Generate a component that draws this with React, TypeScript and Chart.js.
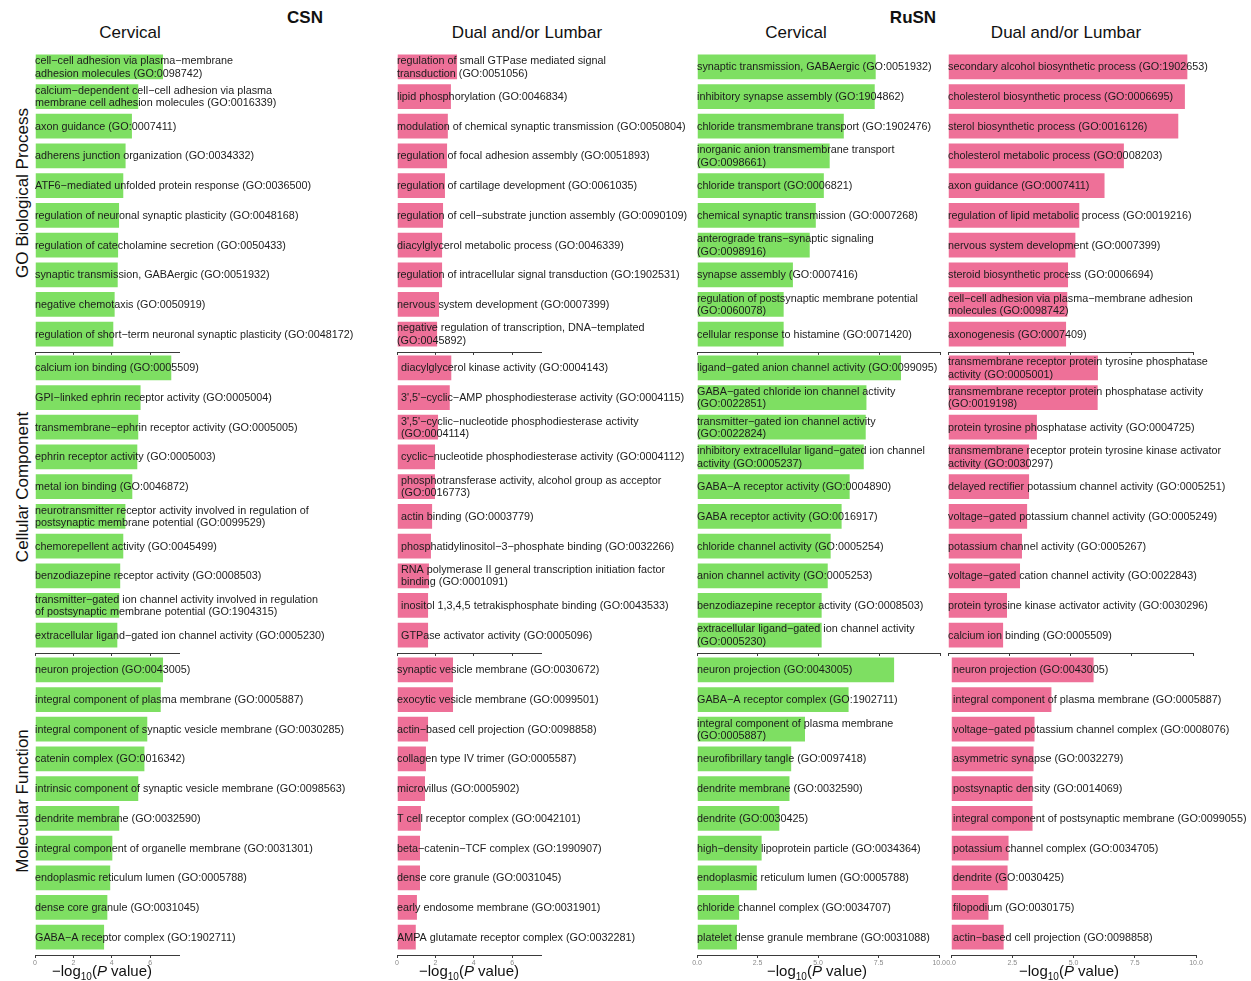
import React, { useEffect, useRef } from "react";
import { Chart, registerables } from "chart.js";

Chart.register(...registerables);

// ---------------- DATA ----------------
const CSN_CERV_BP_TERMS: (string | string[])[] = [
  ["cell−cell adhesion via plasma−membrane", "adhesion molecules (GO:0098742)"],
  ["calcium−dependent cell−cell adhesion via plasma", "membrane cell adhesion molecules (GO:0016339)"],
  "axon guidance (GO:0007411)",
  "adherens junction organization (GO:0034332)",
  "ATF6−mediated unfolded protein response (GO:0036500)",
  "regulation of neuronal synaptic plasticity (GO:0048168)",
  "regulation of catecholamine secretion (GO:0050433)",
  "synaptic transmission, GABAergic (GO:0051932)",
  "negative chemotaxis (GO:0050919)",
  "regulation of short−term neuronal synaptic plasticity (GO:0048172)",
];
const CSN_CERV_BP_LOGP = [6.72, 5.43, 5.1, 4.77, 4.65, 4.43, 4.38, 4.36, 4.2, 4.13];

const CSN_CERV_CC_TERMS: (string | string[])[] = [
  "calcium ion binding (GO:0005509)",
  "GPI−linked ephrin receptor activity (GO:0005004)",
  "transmembrane−ephrin receptor activity (GO:0005005)",
  "ephrin receptor activity (GO:0005003)",
  "metal ion binding (GO:0046872)",
  ["neurotransmitter receptor activity involved in regulation of", "postsynaptic membrane potential (GO:0099529)"],
  "chemorepellent activity (GO:0045499)",
  "benzodiazepine receptor activity (GO:0008503)",
  ["transmitter−gated ion channel activity involved in regulation", "of postsynaptic membrane potential (GO:1904315)"],
  "extracellular ligand−gated ion channel activity (GO:0005230)",
];
const CSN_CERV_CC_LOGP = [7.15, 5.55, 5.43, 5.38, 5.12, 4.76, 4.65, 4.49, 4.44, 4.34];

const CSN_CERV_MF_TERMS: (string | string[])[] = [
  "neuron projection (GO:0043005)",
  "integral component of plasma membrane (GO:0005887)",
  "integral component of synaptic vesicle membrane (GO:0030285)",
  "catenin complex (GO:0016342)",
  "intrinsic component of synaptic vesicle membrane (GO:0098563)",
  "dendrite membrane (GO:0032590)",
  "integral component of organelle membrane (GO:0031301)",
  "endoplasmic reticulum lumen (GO:0005788)",
  "dense core granule (GO:0031045)",
  "GABA−A receptor complex (GO:1902711)",
];
const CSN_CERV_MF_LOGP = [6.72, 6.6, 5.9, 5.75, 5.43, 4.44, 4.08, 3.97, 3.82, 3.65];

const CSN_LUMB_BP_TERMS: (string | string[])[] = [
  ["regulation of small GTPase mediated signal", "transduction (GO:0051056)"],
  "lipid phosphorylation (GO:0046834)",
  "modulation of chemical synaptic transmission (GO:0050804)",
  "regulation of focal adhesion assembly (GO:0051893)",
  "regulation of cartilage development (GO:0061035)",
  "regulation of cell−substrate junction assembly (GO:0090109)",
  "diacylglycerol metabolic process (GO:0046339)",
  "regulation of intracellular signal transduction (GO:1902531)",
  "nervous system development (GO:0007399)",
  ["negative regulation of transcription, DNA−templated", "(GO:0045892)"],
];
const CSN_LUMB_BP_LOGP = [3.18, 2.86, 2.7, 2.66, 2.55, 2.45, 2.4, 2.4, 2.24, 2.14];

const CSN_LUMB_CC_TERMS: (string | string[])[] = [
  "diacylglycerol kinase activity (GO:0004143)",
  "3',5'−cyclic−AMP phosphodiesterase activity (GO:0004115)",
  ["3',5'−cyclic−nucleotide phosphodiesterase activity", "(GO:0004114)"],
  "cyclic−nucleotide phosphodiesterase activity (GO:0004112)",
  ["phosphotransferase activity, alcohol group as acceptor", "(GO:0016773)"],
  "actin binding (GO:0003779)",
  "phosphatidylinositol−3−phosphate binding (GO:0032266)",
  ["RNA polymerase II general transcription initiation factor", "binding (GO:0001091)"],
  "inositol 1,3,4,5 tetrakisphosphate binding (GO:0043533)",
  "GTPase activator activity (GO:0005096)",
];
const CSN_LUMB_CC_LOGP = [2.88, 2.8, 2.19, 2.03, 2.03, 1.88, 1.82, 1.72, 1.67, 1.67];

const CSN_LUMB_MF_TERMS: (string | string[])[] = [
  "synaptic vesicle membrane (GO:0030672)",
  "exocytic vesicle membrane (GO:0099501)",
  "actin−based cell projection (GO:0098858)",
  "collagen type IV trimer (GO:0005587)",
  "microvillus (GO:0005902)",
  "T cell receptor complex (GO:0042101)",
  "beta−catenin−TCF complex (GO:1990907)",
  "dense core granule (GO:0031045)",
  "early endosome membrane (GO:0031901)",
  "AMPA glutamate receptor complex (GO:0032281)",
];
const CSN_LUMB_MF_LOGP = [2.97, 2.97, 1.67, 1.56, 1.51, 1.3, 1.25, 1.25, 1.09, 1.03];

const RUSN_CERV_BP_TERMS: (string | string[])[] = [
  "synaptic transmission, GABAergic (GO:0051932)",
  "inhibitory synapse assembly (GO:1904862)",
  "chloride transmembrane transport (GO:1902476)",
  ["inorganic anion transmembrane transport", "(GO:0098661)"],
  "chloride transport (GO:0006821)",
  "chemical synaptic transmission (GO:0007268)",
  ["anterograde trans−synaptic signaling", "(GO:0098916)"],
  "synapse assembly (GO:0007416)",
  ["regulation of postsynaptic membrane potential", "(GO:0060078)"],
  "cellular response to histamine (GO:0071420)",
];
const RUSN_CERV_BP_LOGP = [7.38, 7.34, 6.07, 5.49, 5.25, 4.92, 4.67, 3.98, 3.6, 3.6];

const RUSN_CERV_CC_TERMS: (string | string[])[] = [
  "ligand−gated anion channel activity (GO:0099095)",
  ["GABA−gated chloride ion channel activity", "(GO:0022851)"],
  ["transmitter−gated ion channel activity", "(GO:0022824)"],
  ["inhibitory extracellular ligand−gated ion channel", "activity (GO:0005237)"],
  "GABA−A receptor activity (GO:0004890)",
  "GABA receptor activity (GO:0016917)",
  "chloride channel activity (GO:0005254)",
  "anion channel activity (GO:0005253)",
  "benzodiazepine receptor activity (GO:0008503)",
  ["extracellular ligand−gated ion channel activity", "(GO:0005230)"],
];
const RUSN_CERV_CC_LOGP = [8.42, 7.0, 6.97, 6.89, 6.31, 5.98, 5.53, 5.41, 5.16, 5.16];

const RUSN_CERV_MF_TERMS: (string | string[])[] = [
  "neuron projection (GO:0043005)",
  "GABA−A receptor complex (GO:1902711)",
  ["integral component of plasma membrane", "(GO:0005887)"],
  "neurofibrillary tangle (GO:0097418)",
  "dendrite membrane (GO:0032590)",
  "dendrite (GO:0030425)",
  "high−density lipoprotein particle (GO:0034364)",
  "endoplasmic reticulum lumen (GO:0005788)",
  "chloride channel complex (GO:0034707)",
  "platelet dense granule membrane (GO:0031088)",
];
const RUSN_CERV_MF_LOGP = [8.18, 6.3, 4.5, 3.93, 3.86, 3.44, 2.71, 2.51, 1.78, 1.69];

const RUSN_LUMB_BP_TERMS: (string | string[])[] = [
  "secondary alcohol biosynthetic process (GO:1902653)",
  "cholesterol biosynthetic process (GO:0006695)",
  "sterol biosynthetic process (GO:0016126)",
  "cholesterol metabolic process (GO:0008203)",
  "axon guidance (GO:0007411)",
  "regulation of lipid metabolic process (GO:0019216)",
  "nervous system development (GO:0007399)",
  "steroid biosynthetic process (GO:0006694)",
  ["cell−cell adhesion via plasma−membrane adhesion", "molecules (GO:0098742)"],
  "axonogenesis (GO:0007409)",
];
const RUSN_LUMB_BP_LOGP = [9.81, 9.71, 9.44, 7.22, 6.43, 5.4, 5.24, 4.94, 4.91, 4.86];

const RUSN_LUMB_CC_TERMS: (string | string[])[] = [
  ["transmembrane receptor protein tyrosine phosphatase", "activity (GO:0005001)"],
  ["transmembrane receptor protein phosphatase activity", "(GO:0019198)"],
  "protein tyrosine phosphatase activity (GO:0004725)",
  ["transmembrane receptor protein tyrosine kinase activator", "activity (GO:0030297)"],
  "delayed rectifier potassium channel activity (GO:0005251)",
  "voltage−gated potassium channel activity (GO:0005249)",
  "potassium channel activity (GO:0005267)",
  "voltage−gated cation channel activity (GO:0022843)",
  "protein tyrosine kinase activator activity (GO:0030296)",
  "calcium ion binding (GO:0005509)",
];
const RUSN_LUMB_CC_LOGP = [6.16, 6.15, 3.67, 3.35, 3.35, 3.27, 3.06, 2.98, 2.45, 2.29];

const RUSN_LUMB_MF_TERMS: (string | string[])[] = [
  "neuron projection (GO:0043005)",
  "integral component of plasma membrane (GO:0005887)",
  "voltage−gated potassium channel complex (GO:0008076)",
  "asymmetric synapse (GO:0032279)",
  "postsynaptic density (GO:0014069)",
  "integral component of postsynaptic membrane (GO:0099055)",
  "potassium channel complex (GO:0034705)",
  "dendrite (GO:0030425)",
  "filopodium (GO:0030175)",
  "actin−based cell projection (GO:0098858)",
];
const RUSN_LUMB_MF_LOGP = [5.86, 4.14, 3.45, 3.41, 3.37, 3.37, 2.39, 2.35, 1.57, 2.19];

const GROUP_TITLES = ["CSN", "RuSN"];
const COLUMN_TITLES = ["Cervical", "Dual and/or Lumbar", "Cervical", "Dual and/or Lumbar"];
const ROW_TITLES = ["GO Biological Process", "Cellular Component", "Molecular Function"];
const CSN_TICKS_MAX = 7.5;
const CSN_TICK_STEP = 2;
const RUSN_TICKS_MAX = 10;
const RUSN_TICK_STEP = 2.5;

// ---------------- STYLE / LAYOUT ----------------
const FONT = '"Liberation Sans", Arial, Helvetica, sans-serif';
const GREEN = "#7EDF62";
const PINK = "#EE7098";
const PAD = 8;
const PANEL_H = 303;
const ROW_TOPS = [48.5, 349.5, 652];

type ColCfg = { left: number; width: number; canvasW: number; xMax: number; step: number; color: string; fixed: number };
const COLS: ColCfg[] = [
  { left: 35, width: 144, canvasW: 362, xMax: CSN_TICKS_MAX, step: CSN_TICK_STEP, color: GREEN, fixed: 0 },
  { left: 397, width: 144, canvasW: 304, xMax: CSN_TICKS_MAX, step: CSN_TICK_STEP, color: PINK, fixed: 0 },
  { left: 697, width: 243.5, canvasW: 258, xMax: RUSN_TICKS_MAX, step: RUSN_TICK_STEP, color: GREEN, fixed: 1 },
  { left: 948, width: 245, canvasW: 311, xMax: RUSN_TICKS_MAX, step: RUSN_TICK_STEP, color: PINK, fixed: 1 },
];

const PANEL_DATA: [(string | string[])[], number[]][][] = [
  [[CSN_CERV_BP_TERMS, CSN_CERV_BP_LOGP], [CSN_CERV_CC_TERMS, CSN_CERV_CC_LOGP], [CSN_CERV_MF_TERMS, CSN_CERV_MF_LOGP]],
  [[CSN_LUMB_BP_TERMS, CSN_LUMB_BP_LOGP], [CSN_LUMB_CC_TERMS, CSN_LUMB_CC_LOGP], [CSN_LUMB_MF_TERMS, CSN_LUMB_MF_LOGP]],
  [[RUSN_CERV_BP_TERMS, RUSN_CERV_BP_LOGP], [RUSN_CERV_CC_TERMS, RUSN_CERV_CC_LOGP], [RUSN_CERV_MF_TERMS, RUSN_CERV_MF_LOGP]],
  [[RUSN_LUMB_BP_TERMS, RUSN_LUMB_BP_LOGP], [RUSN_LUMB_CC_TERMS, RUSN_LUMB_CC_LOGP], [RUSN_LUMB_MF_TERMS, RUSN_LUMB_MF_LOGP]],
];

const INDENTS = [
  [1, 1, 1],
  [1, 5, 1],
  [1, 1, 1],
  [1, 1, 3],
];
const ROW_LEFT_SHIFT = [
  [0, 0, 0],
  [0, 0, 0],
  [0, 0, 0],
  [0, 0, 2.5],
];

type PanelProps = {
  terms: (string | string[])[];
  values: number[];
  col: ColCfg;
  top: number;
  left: number;
  showTickLabels: boolean;
  indent: number;
};

function Panel({ terms, values, col, top, left, showTickLabels, indent }: PanelProps) {
  const ref = useRef<HTMLCanvasElement | null>(null);
  const bottomH = showTickLabels ? 16 : 5;
  const canvasH = PANEL_H + bottomH;

  useEffect(() => {
    if (!ref.current) return;
    const labelPlugin = {
      id: "termLabels",
      afterDatasetsDraw(chart: any) {
        const { ctx, chartArea, scales } = chart;
        ctx.save();
        ctx.font = `10.8px ${FONT}`;
        ctx.fillStyle = "#1c1c1c";
        ctx.textBaseline = "middle";
        ctx.textAlign = "left";
        terms.forEach((t, i) => {
          const lines = Array.isArray(t) ? t : [t];
          const yc = scales.y.getPixelForValue(i);
          const lh = 12.4;
          lines.forEach((ln, k) => {
            const y = yc + (k - (lines.length - 1) / 2) * lh;
            ctx.fillText(ln, chartArea.left + indent - 1, y + 0.5);
          });
        });
        ctx.restore();
      },
    };
    const chart = new Chart(ref.current, {
      type: "bar",
      data: {
        datasets: [
          {
            data: values.map((v, i) => ({ x: v, y: i })) as any,
            backgroundColor: col.color,
            borderColor: "rgba(255,255,255,0.45)",
            borderWidth: 1,
            barPercentage: 0.9,
            categoryPercentage: 1,
          },
        ],
      },
      options: {
        indexAxis: "y",
        animation: false,
        responsive: false,
        maintainAspectRatio: false,
        devicePixelRatio: 1,
        layout: { padding: { left: PAD, right: col.canvasW - PAD - col.width, top: 0, bottom: 0 } },
        plugins: { legend: { display: false }, tooltip: { enabled: false }, title: { display: false } },
        scales: {
          y: {
            type: "linear",
            display: false,
            offset: false,
            min: -0.6,
            max: 9.6,
            reverse: true,
            grid: { offset: false },
            ticks: { stepSize: 1, includeBounds: false },
          },
          x: {
            type: "linear",
            position: "bottom",
            min: 0,
            max: col.xMax,
            offset: false,
            border: { display: true, color: "#3a3a3a", width: 1 },
            grid: { display: true, drawOnChartArea: false, drawTicks: true, tickLength: 3, tickColor: "#3a3a3a", color: "#3a3a3a" },
            ticks: {
              display: showTickLabels,
              stepSize: col.step,
              includeBounds: false,
              autoSkip: false,
              maxRotation: 0,
              padding: 1,
              color: "#8a8a8a",
              font: { size: 7, family: FONT },
              callback: (v: any) => (col.fixed ? Number(v).toFixed(1) : String(v)),
            },
            afterFit: (s: any) => {
              s.height = bottomH;
            },
          },
        },
      } as any,
      plugins: [labelPlugin],
    });
    return () => chart.destroy();
  }, []);

  return (
    <canvas
      ref={ref}
      width={col.canvasW}
      height={canvasH}
      style={{ position: "absolute", left: left - PAD, top, width: col.canvasW, height: canvasH }}
    />
  );
}

const textBase: React.CSSProperties = {
  position: "absolute",
  fontFamily: FONT,
  color: "#111",
  whiteSpace: "nowrap",
  lineHeight: 1,
};

export default function App() {
  const panels: React.ReactNode[] = [];
  COLS.forEach((col, ci) => {
    ROW_TOPS.forEach((top, ri) => {
      const [terms, values] = PANEL_DATA[ci][ri];
      panels.push(
        <Panel
          key={`${ci}-${ri}`}
          terms={terms}
          values={values}
          col={col}
          top={top}
          left={col.left + ROW_LEFT_SHIFT[ci][ri]}
          showTickLabels={ri === 2}
          indent={INDENTS[ci][ri]}
        />
      );
    });
  });

  const colTitleX = [130, 527, 796, 1066];
  const groupX = [305, 913];
  const rowTitleY = [193, 487, 801];
  const axisTitleX = [102, 469, 817, 1069];

  return (
    <div style={{ position: "absolute", left: 0, top: 0, width: 1251, height: 981, overflow: "hidden", background: "#fff" }}>
      {GROUP_TITLES.map((t, i) => (
        <div key={t} style={{ ...textBase, left: groupX[i], top: 9, transform: "translateX(-50%)", fontSize: 17, fontWeight: "bold" }}>
          {t}
        </div>
      ))}
      {COLUMN_TITLES.map((t, i) => (
        <div key={i} style={{ ...textBase, left: colTitleX[i], top: 24, transform: "translateX(-50%)", fontSize: 17 }}>
          {t}
        </div>
      ))}
      {ROW_TITLES.map((t, i) => (
        <div
          key={t}
          style={{
            ...textBase,
            left: 22,
            top: rowTitleY[i],
            transform: "translate(-50%, -50%) rotate(-90deg)",
            fontSize: 17,
          }}
        >
          {t}
        </div>
      ))}
      {panels}
      {axisTitleX.map((x, i) => (
        <div key={i} style={{ ...textBase, left: x, top: 963, transform: "translateX(-50%)", fontSize: 15 }}>
          −log<sub style={{ fontSize: 10, verticalAlign: "baseline", position: "relative", top: 4 }}>10</sub>(<i>P</i> value)
        </div>
      ))}
    </div>
  );
}
